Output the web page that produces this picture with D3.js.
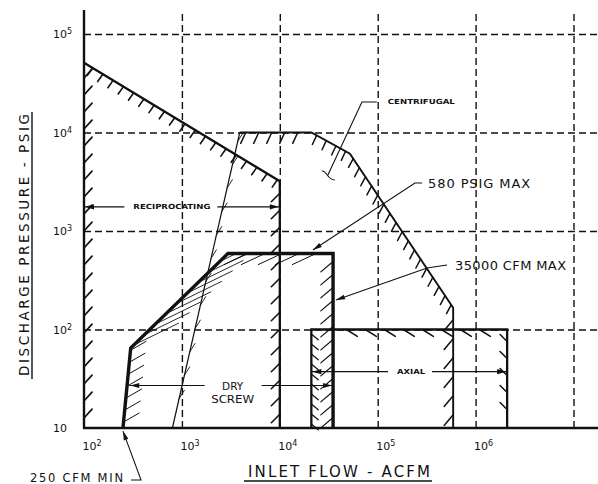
<!DOCTYPE html>
<html><head><meta charset="utf-8">
<script src="https://cdn.jsdelivr.net/npm/d3@7"></script>
<style>body{margin:0;background:#fff}text{font-family:"DejaVu Sans",sans-serif;fill:#111}</style>
</head><body>
<svg id="c" width="598" height="484"></svg>
<script>
// ---------------- data ----------------
const xTickValues = [1e2, 1e3, 1e4, 1e5, 1e6];
const xTickExponents = ["2", "3", "4", "5", "6"];
const xGridValues = [1e3, 1e4, 1e5, 1e6, 1e7];
const yTickValues = [10, 1e2, 1e3, 1e4, 1e5];
const yTickExponents = ["", "2", "3", "4", "5"];
const yGridValues = [1e2, 1e3, 1e4, 1e5];

// region boundaries [ACFM, PSIG]
const reciprocating = [[100, 10], [100, 51000], [10000, 3200], [10000, 10]];
const centrifugal = [[800, 10], [3900, 10000], [21000, 10000], [52000, 6100], [590000, 166], [590000, 10]];
const dryScrew = [[250, 10], [300, 65], [2950, 590], [35000, 590], [35000, 10]];
const axial = [[21000, 10], [21000, 100], [2.1e6, 100], [2.1e6, 10]];

// range arrows: label, pressure, flow from, flow to, label flow
const rangeLabels = ["RECIPROCATING", "DRY|SCREW", "AXIAL"];
const rangeY = [1760, 27, 37.3];
const rangeX0 = [100, 290, 21000];
const rangeX1 = [10000, 35000, 2.1e6];
const rangeLabelX = [790, 3300, 219000];

// leader annotations: label, points [ACFM, PSIG] from label end to target
const leaderLabels = ["CENTRIFUGAL", "580 PSIG MAX", "35000 CFM MAX", "250 CFM MIN"];
const leaderPoints = [
  [[98000, 20400], [69000, 20400], [31000, 3700]],
  [[284000, 3070], [240000, 3070], [21800, 641]],
  [[511000, 452], [319000, 421], [37500, 199]],
  [[302, 2.97], [382, 2.97], [250, 9.3]]
];

// ---------------- drawing ----------------
const svg = d3.select("#c");
const x = d3.scaleLog().domain([100, 1e7]).range([84, 573.5]);
const y = d3.scaleLog().domain([10, 1e5]).range([428, 34]);
const P = d => [x(d[0]), y(d[1])];
const line = d3.line().x(d => x(d[0])).y(d => y(d[1]));

// grid (dashed)
svg.append("g").attr("transform", "translate(0,428)")
  .call(d3.axisBottom(x).tickValues(xGridValues).tickSize(-418).tickFormat(""))
  .call(g => g.select(".domain").remove())
  .selectAll("line").attr("stroke", "#111").attr("stroke-width", 1.4).attr("stroke-dasharray", "7,4");
svg.append("g").attr("transform", "translate(84,0)")
  .call(d3.axisRight(y).tickValues(yGridValues).tickSize(598 - 84).tickFormat(""))
  .call(g => g.select(".domain").remove())
  .selectAll("line").attr("stroke", "#111").attr("stroke-width", 1.4).attr("stroke-dasharray", "7,4");

// tick labels
const yAx = svg.append("g").attr("transform", "translate(84,0)")
  .call(d3.axisLeft(y).tickValues(yTickValues).tickSize(0).tickFormat(""));
yAx.select(".domain").remove();
yAx.selectAll(".tick text").each(function (d, i) {
  const t = d3.select(this).attr("x", -31).attr("dy", "0.35em").attr("text-anchor", "start")
    .attr("font-size", 11).attr("fill", "#111");
  t.append("tspan").text("10");
  if (yTickExponents[i]) t.append("tspan").attr("dy", -4).attr("font-size", 8).text(yTickExponents[i]);
});
const xAx = svg.append("g").attr("transform", "translate(0,428)")
  .call(d3.axisBottom(x).tickValues(xTickValues).tickSize(0).tickFormat(""));
xAx.select(".domain").remove();
xAx.selectAll(".tick text").each(function (d, i) {
  const t = d3.select(this).attr("x", -2).attr("y", 22).attr("dy", 0).attr("text-anchor", "start")
    .attr("font-size", 11).attr("fill", "#111");
  t.append("tspan").text("10");
  t.append("tspan").attr("dy", -4).attr("font-size", 8).text(xTickExponents[i]);
});

// axis frame
svg.append("line").attr("x1", 84).attr("x2", 84).attr("y1", 10).attr("y2", 428).attr("stroke", "#111").attr("stroke-width", 2.4);
svg.append("line").attr("x1", 83).attr("x2", 598).attr("y1", 428).attr("y2", 428).attr("stroke", "#111").attr("stroke-width", 2.4);

// clip for dry screw interior
svg.append("clipPath").attr("id", "ds").append("path").attr("d", line(dryScrew) + "Z");

// hatch helper
function hatch(pts, specs, clip) {
  const hg = svg.append("g").attr("stroke", "#111").attr("stroke-linecap", "round");
  if (clip) hg.attr("clip-path", `url(#${clip})`);
  specs.forEach(s => {
    const a = P(pts[s.i]), b = P(pts[s.i + 1]);
    const dx = b[0] - a[0], dy = b[1] - a[1], L = Math.hypot(dx, dy);
    const ang = s.dir * Math.PI / 180, ux = Math.cos(ang), uy = Math.sin(ang);
    const end = s.end != null ? s.end : L - 2;
    for (let d = s.start != null ? s.start : s.sp / 2; d <= end; d += s.sp) {
      const px = a[0] + dx * d / L, py = a[1] + dy * d / L;
      hg.append("line").attr("x1", px).attr("y1", py).attr("x2", px + ux * s.len).attr("y2", py + uy * s.len)
        .attr("stroke-width", s.w || 1.5);
    }
  });
}

hatch(reciprocating, [
  { i: 0, dir: -48, len: 12, sp: 17, start: 10, w: 1.7 },
  { i: 1, dir: 125, len: 9, sp: 12, start: 10, w: 1.6 },
  { i: 2, dir: 135, len: 12, sp: 17, start: 12, w: 1.6 }
]);
hatch(centrifugal, [
  { i: 0, dir: -58, len: 10, sp: 24, start: 30, w: 0.9 },
  { i: 1, dir: 115, len: 12, sp: 13, start: 6, w: 1.5 },
  { i: 2, dir: 115, len: 10, sp: 11, start: 6, w: 1.5 },
  { i: 3, dir: 118, len: 10, sp: 11, start: 6, w: 1.5 },
  { i: 4, dir: 130, len: 14, sp: 19, start: 12, w: 1.5 }
]);
hatch(axial, [
  { i: 0, dir: 40, len: 9, sp: 10, start: 4, w: 1.2 },
  { i: 1, dir: 32, len: 13, sp: 19, start: 35, end: 185, w: 1.5 },
  { i: 2, dir: 225, len: 10, sp: 17, start: 12, w: 1.5 }
]);
hatch(dryScrew, [
  { i: 0, dir: -30, len: 18, sp: 12, start: 6, w: 1 },
  { i: 1, dir: -26, len: 50, sp: 15, start: 4, w: 0.9 },
  { i: 2, dir: 155, len: 26, sp: 17, start: 20, w: 1 },
  { i: 3, dir: 140, len: 16, sp: 13, start: 8, w: 1.2 }
], "ds");

// region outlines
const og2 = svg.append("g").attr("fill", "none").attr("stroke", "#111").attr("stroke-linejoin", "miter");
og2.append("path").attr("d", line(reciprocating.slice(1))).attr("stroke-width", 2.3);
og2.append("path").attr("d", line(centrifugal.slice(0, 2))).attr("stroke-width", 1.2);
og2.append("path").attr("d", line(centrifugal.slice(1))).attr("stroke-width", 1.9);
og2.append("path").attr("d", line(axial)).attr("stroke-width", 2.3);
og2.append("path").attr("d", line(dryScrew)).attr("stroke-width", 3.4);

// arrowhead helper
function arrowHead(tip, from, len = 8, hw = 2.6) {
  const dx = tip[0] - from[0], dy = tip[1] - from[1], L = Math.hypot(dx, dy), ux = dx / L, uy = dy / L;
  const bx = tip[0] - ux * len, by = tip[1] - uy * len;
  svg.append("path").attr("d", `M${tip[0]},${tip[1]}L${bx - uy * hw},${by + ux * hw}L${bx + uy * hw},${by - ux * hw}Z`)
    .attr("fill", "#111");
}

// range arrows
rangeLabels.forEach((lab, i) => {
  const yy = y(rangeY[i]), x0 = x(rangeX0[i]), x1 = x(rangeX1[i]), cx = x(rangeLabelX[i]);
  let left, right;
  if (lab.includes("|")) {
    const [a, b] = lab.split("|");
    svg.append("text").attr("x", cx).attr("y", yy + 4.5).attr("text-anchor", "middle").attr("font-size", 10.5).text(a);
    svg.append("text").attr("x", cx).attr("y", yy + 17.5).attr("text-anchor", "middle").attr("font-size", 10.5)
      .attr("textLength", 43).attr("lengthAdjust", "spacingAndGlyphs").text(b);
    left = cx - 28; right = cx + 29;
  } else {
    const w = lab.length > 6 ? 77 : 28;
    svg.append("text").attr("x", cx).attr("y", yy + 2.6).attr("text-anchor", "middle").attr("font-size", 7)
      .attr("font-weight", "bold").attr("textLength", w).attr("lengthAdjust", "spacingAndGlyphs").text(lab);
    left = cx - w / 2 - 9; right = cx + w / 2 + 7;
  }
  svg.append("line").attr("x1", x0).attr("x2", left).attr("y1", yy).attr("y2", yy).attr("stroke", "#111").attr("stroke-width", 1.2);
  svg.append("line").attr("x1", right).attr("x2", x1).attr("y1", yy).attr("y2", yy).attr("stroke", "#111").attr("stroke-width", 1.2);
  arrowHead([x0 + 1, yy], [x0 + 20, yy], 9, 2.6);
  arrowHead([x1 - 1, yy], [x1 - 20, yy], 9, 2.6);
});

// leaders
const leaderStyle = [
  { dx: 11, dy: 0, anchor: "start", size: 7, bold: true, len: 67, arrow: false, hook: true },
  { dx: 6, dy: 0, anchor: "start", size: 13, bold: false, len: 102, arrow: true },
  { dx: 8, dy: 0, anchor: "start", size: 13, bold: false, len: 111, arrow: true },
  { dx: -8, dy: -1.5, anchor: "end", size: 11.5, bold: false, len: 93, arrow: true }
];
leaderLabels.forEach((lab, i) => {
  const st = leaderStyle[i];
  const pts = leaderPoints[i].map(P);
  svg.append("path").attr("d", d3.line()(pts)).attr("fill", "none").attr("stroke", "#111").attr("stroke-width", 1.1);
  if (st.arrow) arrowHead(pts[2], pts[1], 9, 2.4);
  if (st.hook) {
    const e = pts[2];
    svg.append("path").attr("d", `M${e[0] - 6},${e[1] - 4}C${e[0] - 1},${e[1] - 5} ${e[0] - 1},${e[1] + 5} ${e[0] + 7},${e[1] + 5}`)
      .attr("fill", "none").attr("stroke", "#111").attr("stroke-width", 1.1);
  }
  svg.append("text").attr("x", pts[0][0] + st.dx).attr("y", pts[0][1] + st.dy).attr("dy", "0.35em")
    .attr("text-anchor", st.anchor).attr("font-size", st.size).attr("font-weight", st.bold ? "bold" : "normal")
    .attr("textLength", st.len).attr("lengthAdjust", st.bold ? "spacingAndGlyphs" : "spacing").text(lab);
});

// axis titles
svg.append("text").attr("transform", "translate(29,245) rotate(-90)").attr("text-anchor", "middle")
  .attr("font-size", 13.5).attr("textLength", 262).attr("lengthAdjust", "spacing").text("DISCHARGE PRESSURE - PSIG");
svg.append("line").attr("x1", 32).attr("x2", 32).attr("y1", 112).attr("y2", 379).attr("stroke", "#111").attr("stroke-width", 1.4);
svg.append("text").attr("x", 339).attr("y", 477).attr("text-anchor", "middle")
  .attr("font-size", 15).attr("textLength", 182).attr("lengthAdjust", "spacing").text("INLET FLOW - ACFM");
svg.append("line").attr("x1", 244).attr("x2", 432).attr("y1", 481).attr("y2", 481).attr("stroke", "#111").attr("stroke-width", 1.4);
</script>
</body></html>
